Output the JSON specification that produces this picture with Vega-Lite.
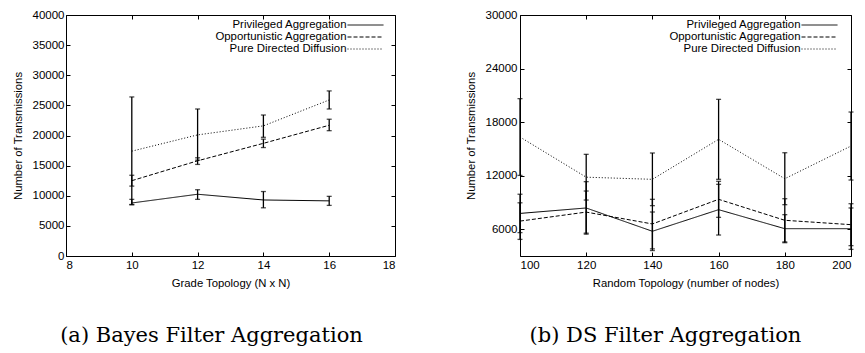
{
  "$schema": "https://vega.github.io/schema/vega-lite/v6.json",
  "background": "white",
  "padding": {"left": 11, "top": 8, "right": 2, "bottom": 0},
  "spacing": 68,
  "config": {
    "view": {"stroke": "black", "strokeWidth": 1},
    "font": "Liberation Sans",
    "axis": {
      "grid": false,
      "domain": false,
      "tickColor": "black",
      "tickSize": -4,
      "tickWidth": 1,
      "labelColor": "black",
      "labelFont": "Liberation Sans",
      "labelFontSize": 11.5,
      "titleColor": "black",
      "titleFont": "Liberation Sans",
      "titleFontSize": 11.3,
      "titleFontWeight": "normal"
    },
    "legend": {
      "orient": "none",
      "legendX": 281,
      "legendY": 4,
      "symbolType": "M-3.27,0H3.27",
      "symbolSize": 121,
      "symbolOffset": 12.5,
      "symbolStrokeColor": "black",
      "symbolStrokeWidth": 1,
      "rowPadding": -1.2,
      "padding": 0,
      "labelAlign": "right",
      "labelOffset": -25,
      "labelFont": "Liberation Sans",
      "labelFontSize": 11.4,
      "labelColor": "black",
      "labelLimit": 300,
      "title": null
    }
  },
  "resolve": {"scale": {"strokeDash": "independent"}, "legend": {"strokeDash": "independent"}},
  "hconcat": [
    {
      "width": 329,
      "height": 241,
      "title": {"text": "(a) Bayes Filter Aggregation", "orient": "bottom", "anchor": "middle", "frame": "group", "font": "DejaVu Serif", "fontSize": 21, "fontWeight": "normal", "color": "black", "offset": 36, "dx": -19},
      "data": {"values": [
        {"series": "Privileged Aggregation", "x": 10, "y": 8800, "lo": 8550, "hi": 9400},
        {"series": "Privileged Aggregation", "x": 12, "y": 10250, "lo": 9400, "hi": 11000},
        {"series": "Privileged Aggregation", "x": 14, "y": 9300, "lo": 8000, "hi": 10700},
        {"series": "Privileged Aggregation", "x": 16, "y": 9150, "lo": 8400, "hi": 9900},
        {"series": "Opportunistic Aggregation", "x": 10, "y": 12500, "lo": 11600, "hi": 13400},
        {"series": "Opportunistic Aggregation", "x": 12, "y": 15800, "lo": 15200, "hi": 16300},
        {"series": "Opportunistic Aggregation", "x": 14, "y": 18700, "lo": 18000, "hi": 19400},
        {"series": "Opportunistic Aggregation", "x": 16, "y": 21700, "lo": 20800, "hi": 22700},
        {"series": "Pure Directed Diffusion", "x": 10, "y": 17400, "lo": 8500, "hi": 26400},
        {"series": "Pure Directed Diffusion", "x": 12, "y": 20100, "lo": 15900, "hi": 24400},
        {"series": "Pure Directed Diffusion", "x": 14, "y": 21600, "lo": 19700, "hi": 23400},
        {"series": "Pure Directed Diffusion", "x": 16, "y": 25900, "lo": 24400, "hi": 27400}
      ]},
      "resolve": {"axis": {"x": "independent", "y": "independent"}},
      "layer": [
        {
          "mark": {"type": "line", "color": "black", "strokeWidth": 1},
          "encoding": {
            "x": {"field": "x", "type": "quantitative", "scale": {"domain": [8, 18], "nice": false}, "axis": {"values": [8, 10, 12, 14, 16, 18], "format": "d", "title": "Grade Topology (N x N)", "labelPadding": 7, "titlePadding": 7}},
            "y": {"field": "y", "type": "quantitative", "scale": {"domain": [0, 40000], "nice": false}, "axis": {"values": [0, 5000, 10000, 15000, 20000, 25000, 30000, 35000, 40000], "format": "d", "title": "Number of Transmissions", "labelPadding": 6, "titlePadding": 9}},
            "strokeDash": {"field": "series", "type": "nominal", "scale": {"domain": ["Privileged Aggregation", "Opportunistic Aggregation", "Pure Directed Diffusion"], "range": [[1, 0], [4, 2], [1, 2]]}, "legend": {"symbolType": "M-3.27,0H3.27"}}
          }
        },
        {
          "mark": {"type": "errorbar", "color": "black", "thickness": 1.3, "ticks": {"size": 5, "thickness": 1.3}},
          "encoding": {
            "x": {"field": "x", "type": "quantitative", "axis": {"orient": "top", "values": [8, 10, 12, 14, 16, 18], "labels": false, "title": null}},
            "y": {"field": "lo", "type": "quantitative", "axis": {"orient": "right", "values": [0, 5000, 10000, 15000, 20000, 25000, 30000, 35000, 40000], "labels": false, "title": null}},
            "y2": {"field": "hi"}
          }
        }
      ]
    },
    {
      "width": 331,
      "height": 241,
      "title": {"text": "(b) DS Filter Aggregation", "orient": "bottom", "anchor": "middle", "frame": "group", "font": "DejaVu Serif", "fontSize": 21, "fontWeight": "normal", "color": "black", "offset": 36, "dx": -20},
      "data": {"values": [
        {"series": "Privileged Aggregation", "x": 100, "y": 7770, "lo": 5620, "hi": 9920},
        {"series": "Privileged Aggregation", "x": 120, "y": 8380, "lo": 5450, "hi": 11330},
        {"series": "Privileged Aggregation", "x": 140, "y": 5770, "lo": 3610, "hi": 7930},
        {"series": "Privileged Aggregation", "x": 160, "y": 8190, "lo": 5350, "hi": 11030},
        {"series": "Privileged Aggregation", "x": 180, "y": 6060, "lo": 4490, "hi": 7630},
        {"series": "Privileged Aggregation", "x": 200, "y": 6060, "lo": 3740, "hi": 8380},
        {"series": "Opportunistic Aggregation", "x": 100, "y": 6910, "lo": 4860, "hi": 8960},
        {"series": "Opportunistic Aggregation", "x": 120, "y": 7920, "lo": 5560, "hi": 10280},
        {"series": "Opportunistic Aggregation", "x": 140, "y": 6590, "lo": 3800, "hi": 9350},
        {"series": "Opportunistic Aggregation", "x": 160, "y": 9350, "lo": 7330, "hi": 11370},
        {"series": "Opportunistic Aggregation", "x": 180, "y": 7000, "lo": 4580, "hi": 9420},
        {"series": "Opportunistic Aggregation", "x": 200, "y": 6510, "lo": 4160, "hi": 8860},
        {"series": "Pure Directed Diffusion", "x": 100, "y": 16330, "lo": 12030, "hi": 20630},
        {"series": "Pure Directed Diffusion", "x": 120, "y": 11830, "lo": 9270, "hi": 14390},
        {"series": "Pure Directed Diffusion", "x": 140, "y": 11590, "lo": 8640, "hi": 14540},
        {"series": "Pure Directed Diffusion", "x": 160, "y": 16070, "lo": 11590, "hi": 20550},
        {"series": "Pure Directed Diffusion", "x": 180, "y": 11660, "lo": 8750, "hi": 14570},
        {"series": "Pure Directed Diffusion", "x": 200, "y": 15320, "lo": 11510, "hi": 19130}
      ]},
      "resolve": {"axis": {"x": "independent", "y": "independent"}},
      "layer": [
        {
          "mark": {"type": "line", "color": "black", "strokeWidth": 1},
          "encoding": {
            "x": {"field": "x", "type": "quantitative", "scale": {"domain": [100, 200], "nice": false}, "axis": {"values": [100, 120, 140, 160, 180, 200], "format": "d", "title": "Random Topology (number of nodes)", "labelPadding": 7, "titlePadding": 7}},
            "y": {"field": "y", "type": "quantitative", "scale": {"domain": [3000, 30000], "nice": false, "zero": false}, "axis": {"values": [6000, 12000, 18000, 24000, 30000], "format": "d", "title": "Number of Transmissions", "labelPadding": 7, "titlePadding": 9}},
            "strokeDash": {"field": "series", "type": "nominal", "scale": {"domain": ["Privileged Aggregation", "Opportunistic Aggregation", "Pure Directed Diffusion"], "range": [[1, 0], [4, 2], [1, 2]]}, "legend": {"symbolType": "M-3.27,0H3.27"}}
          }
        },
        {
          "mark": {"type": "errorbar", "color": "black", "thickness": 1.3, "ticks": {"size": 5, "thickness": 1.3}},
          "encoding": {
            "x": {"field": "x", "type": "quantitative", "axis": {"orient": "top", "values": [100, 120, 140, 160, 180, 200], "labels": false, "title": null}},
            "y": {"field": "lo", "type": "quantitative", "axis": {"orient": "right", "values": [6000, 12000, 18000, 24000, 30000], "labels": false, "title": null}},
            "y2": {"field": "hi"}
          }
        }
      ]
    }
  ]
}
